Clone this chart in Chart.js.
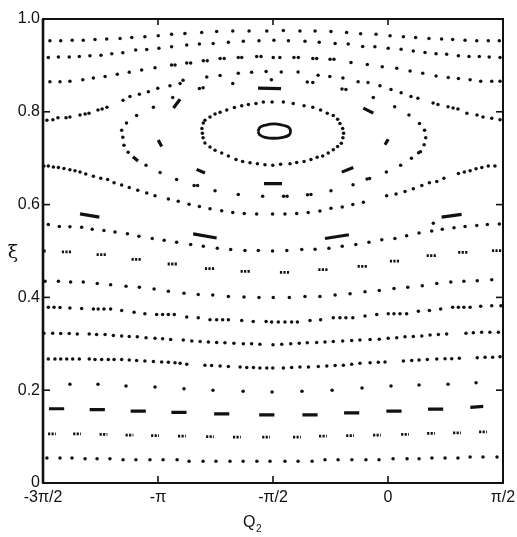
<!DOCTYPE html>
<html>
<head>
<meta charset="utf-8">
<script src="https://cdn.jsdelivr.net/npm/chart.js@4.4.1/dist/chart.umd.min.js"></script>
<style>html,body{margin:0;padding:0;background:#fff}</style>
</head>
<body>
<canvas id="poincare" width="517" height="537"></canvas>
<script>
const xTicks = [-1.5, -1, -0.5, 0, 0.5];
const xTickLabels = ['-3π/2', '-π', '-π/2', '0', 'π/2'];
const yTicks = [0, 0.2, 0.4, 0.6, 0.8, 1.0];
const yTickLabels = ['0', '0.2', '0.4', '0.6', '0.8', '1.0'];

// plain dotted invariant curves, bottom to top
const curve05 = [[-1.483,.054],[-1.426,.054],[-1.374,.054],[-1.317,.052],[-1.265,.052],[-1.209,.052],[-1.152,.050],[-1.096,.050],[-1.035,.050],[-0.978,.050],[-0.917,.050],[-0.865,.047],[-0.804,.047],[-0.748,.047],[-0.687,.047],[-0.630,.047],[-0.570,.047],[-0.513,.047],[-0.448,.047],[-0.391,.047],[-0.330,.047],[-0.274,.050],[-0.217,.050],[-0.157,.050],[-0.096,.050],[-0.039,.050],[0.022,.052],[0.083,.052],[0.135,.052],[0.191,.054],[0.248,.054],[0.304,.054],[0.357,.056],[0.413,.056],[0.474,.056]];
const curve20 = [[-1.383,.213],[-1.261,.213],[-1.139,.209],[-1.013,.207],[-0.887,.203],[-0.761,.200],[-0.630,.198],[-0.504,.196],[-0.374,.198],[-0.243,.200],[-0.113,.205],[0.013,.209],[0.135,.211],[0.261,.213],[0.383,.216]];
const curve26 = [[-1.477,.267],[-1.448,.267],[-1.423,.267],[-1.397,.267],[-1.371,.267],[-1.342,.267],[-1.299,.267],[-1.274,.266],[-1.245,.266],[-1.216,.266],[-1.191,.266],[-1.158,.266],[-1.125,.265],[-1.093,.264],[-1.057,.263],[-1.020,.262],[-0.984,.261],[-0.955,.260],[-0.926,.259],[-0.904,.258],[-0.875,.256],[-0.796,.254],[-0.767,.253],[-0.730,.252],[-0.694,.251],[-0.643,.250],[-0.614,.249],[-0.585,.249],[-0.557,.248],[-0.527,.248],[-0.501,.248],[-0.455,.248],[-0.419,.249],[-0.383,.250],[-0.346,.250],[-0.303,.251],[-0.266,.252],[-0.230,.253],[-0.194,.254],[-0.158,.256],[-0.122,.258],[-0.078,.259],[-0.042,.260],[-0.013,.261],[0.067,.263],[0.103,.264],[0.135,.265],[0.171,.266],[0.212,.267],[0.248,.268],[0.277,.268],[0.310,.269],[0.388,.270],[0.422,.271],[0.455,.271],[0.487,.272]];
const curve31 = [[-1.496,.323],[-1.458,.323],[-1.423,.322],[-1.386,.322],[-1.351,.321],[-1.299,.321],[-1.267,.320],[-1.230,.320],[-1.194,.318],[-1.158,.317],[-1.125,.316],[-1.090,.315],[-1.052,.313],[-1.013,.312],[-0.980,.311],[-0.945,.309],[-0.890,.308],[-0.853,.306],[-0.817,.305],[-0.781,.304],[-0.745,.303],[-0.709,.302],[-0.670,.301],[-0.629,.300],[-0.593,.300],[-0.557,.299],[-0.500,.298],[-0.462,.299],[-0.423,.300],[-0.386,.301],[-0.351,.302],[-0.310,.303],[-0.274,.304],[-0.238,.305],[-0.197,.306],[-0.158,.307],[-0.122,.308],[-0.078,.309],[-0.038,.310],[0.001,.312],[0.038,.313],[0.074,.315],[0.110,.316],[0.147,.317],[0.183,.319],[0.219,.320],[0.255,.321],[0.339,.323],[0.371,.324],[0.407,.325],[0.443,.325],[0.480,.325]];
const curve37 = [[-1.477,.379],[-1.452,.379],[-1.426,.378],[-1.383,.377],[-1.332,.376],[-1.281,.375],[-1.260,.375],[-1.235,.375],[-1.206,.375],[-1.158,.372],[-1.104,.368],[-1.057,.365],[-1.006,.363],[-0.980,.363],[-0.955,.363],[-0.929,.363],[-0.875,.358],[-0.825,.356],[-0.774,.352],[-0.745,.352],[-0.719,.352],[-0.694,.352],[-0.636,.350],[-0.586,.348],[-0.530,.348],[-0.506,.347],[-0.477,.347],[-0.448,.347],[-0.419,.347],[-0.394,.347],[-0.339,.350],[-0.293,.352],[-0.238,.356],[-0.209,.356],[-0.183,.356],[-0.153,.356],[-0.100,.360],[-0.049,.363],[0.001,.365],[0.026,.365],[0.052,.365],[0.081,.365],[0.132,.370],[0.180,.372],[0.229,.375],[0.281,.379],[0.306,.379],[0.330,.379],[0.357,.379],[0.403,.381],[0.451,.382],[0.491,.382]];
const curve43 = [[-1.491,.435],[-1.433,.435],[-1.380,.433],[-1.325,.433],[-1.264,.430],[-1.206,.427],[-1.139,.424],[-1.081,.422],[-1.017,.418],[-0.955,.413],[-0.887,.409],[-0.825,.406],[-0.762,.405],[-0.694,.402],[-0.626,.401],[-0.561,.400],[-0.499,.400],[-0.429,.400],[-0.361,.402],[-0.296,.402],[-0.230,.405],[-0.165,.408],[-0.100,.412],[-0.038,.415],[0.026,.419],[0.086,.422],[0.149,.425],[0.212,.430],[0.273,.433],[0.330,.435],[0.388,.436],[0.451,.438]];
const curve53 = [[-1.477,.557],[-1.429,.553],[-1.383,.552],[-1.332,.551],[-1.286,.547],[-1.235,.544],[-1.187,.541],[-1.133,.537],[-1.083,.532],[-1.025,.527],[-0.973,.523],[-0.919,.519],[-0.858,.514],[-0.803,.510],[-0.742,.506],[-0.684,.503],[-0.622,.501],[-0.564,.501],[-0.502,.500],[-0.440,.501],[-0.375,.503],[-0.317,.504],[-0.257,.506],[-0.199,.510],[-0.140,.514],[-0.083,.519],[-0.027,.524],[0.030,.527],[0.081,.533],[0.135,.539],[0.190,.543],[0.236,.547],[0.287,.550],[0.335,.553],[0.386,.555],[0.432,.557],[0.484,.558],[0.197,.560]];
const separatrix = [[-1.496,.683],[-1.477,.683],[-1.455,.681],[-1.433,.680],[-1.409,.678],[-1.383,.675],[-1.361,.673],[-1.339,.670],[-1.314,.666],[-1.281,.661],[-1.249,.657],[-1.219,.654],[-1.191,.647],[-1.158,.642],[-1.125,.637],[-1.088,.631],[-1.049,.625],[-1.013,.619],[-0.955,.612],[-0.912,.607],[-0.865,.601],[-0.820,.596],[-0.774,.591],[-0.723,.587],[-0.675,.583],[-0.625,.581],[-0.571,.580],[-0.502,.580],[-0.448,.580],[-0.397,.581],[-0.347,.583],[-0.296,.586],[-0.248,.592],[-0.199,.595],[-0.153,.600],[-0.107,.605],[-0.006,.619],[0.035,.623],[0.074,.628],[0.110,.634],[0.147,.641],[0.180,.647],[0.212,.650],[0.243,.657],[0.306,.667],[0.332,.670],[0.357,.673],[0.383,.677],[0.408,.680],[0.436,.683],[0.465,.683]];
const curveD = [[-1.483,.782],[-1.457,.783],[-1.435,.787],[-1.400,.787],[-1.383,.789],[-1.339,.793],[-1.317,.795],[-1.300,.797],[-1.261,.804],[-1.243,.806],[-1.222,.810],[-1.152,.825],[-1.122,.833],[-1.081,.838],[-1.042,.843],[-1.001,.851],[-0.948,.856],[-0.904,.861],[-0.891,.868],[-0.788,.875],[-0.730,.878],[-0.651,.883],[-0.593,.885],[-0.530,.887],[-0.464,.886],[-0.391,.886],[-0.304,.879],[-0.253,.876],[-0.196,.873],[-0.130,.865],[-0.087,.863],[-0.035,.856],[0.013,.848],[0.057,.841],[0.100,.833],[0.130,.829],[0.196,.819],[0.217,.816],[0.261,.811],[0.283,.808],[0.304,.806],[0.343,.797],[0.387,.793],[0.413,.789],[0.451,.786],[0.487,.783]];
const curveC = [[-1.470,.865],[-1.426,.865],[-1.383,.866],[-1.327,.869],[-1.281,.873],[-1.230,.876],[-1.177,.881],[-1.125,.885],[-1.071,.890],[-1.013,.895],[-0.941,.901],[-0.926,.901],[-0.875,.905],[-0.858,.905],[-0.803,.910],[-0.786,.910],[-0.730,.915],[-0.712,.915],[-0.651,.917],[-0.636,.917],[-0.571,.919],[-0.552,.919],[-0.499,.917],[-0.470,.917],[-0.409,.917],[-0.390,.917],[-0.327,.915],[-0.310,.915],[-0.252,.913],[-0.235,.913],[-0.161,.906],[-0.090,.902],[-0.025,.897],[0.038,.894],[0.096,.888],[0.151,.883],[0.209,.877],[0.262,.874],[0.306,.872],[0.357,.869],[0.403,.866],[0.451,.866],[0.487,.866]];
const curveB = [[-1.477,.917],[-1.433,.918],[-1.386,.918],[-1.342,.919],[-1.296,.921],[-1.248,.922],[-1.201,.925],[-1.153,.927],[-1.097,.933],[-1.049,.934],[-0.996,.937],[-0.941,.940],[-0.875,.944],[-0.820,.946],[-0.760,.947],[-0.694,.950],[-0.629,.952],[-0.561,.953],[-0.496,.954],[-0.433,.953],[-0.361,.952],[-0.299,.950],[-0.230,.947],[-0.173,.946],[-0.110,.941],[-0.057,.940],[0.001,.937],[0.057,.935],[0.110,.931],[0.161,.928],[0.209,.925],[0.255,.924],[0.306,.921],[0.352,.919],[0.397,.919],[0.440,.918],[0.487,.917]];
const curveA = [[-1.470,.953],[-1.423,.953],[-1.373,.954],[-1.325,.954],[-1.274,.956],[-1.223,.957],[-1.165,.958],[-1.114,.960],[-1.057,.962],[-0.999,.964],[-0.941,.967],[-0.883,.969],[-0.810,.971],[-0.745,.973],[-0.675,.974],[-0.604,.974],[-0.527,.974],[-0.455,.975],[-0.383,.974],[-0.317,.974],[-0.248,.973],[-0.180,.971],[-0.119,.968],[-0.052,.967],[0.009,.964],[0.067,.962],[0.120,.960],[0.178,.958],[0.233,.957],[0.281,.956],[0.335,.954],[0.386,.953],[0.436,.953],[0.484,.953]];

// chaotic layer round the island chain, and the ring about -pi/2
const chainLoop = [[-1.020,.810],[-0.936,.831],[-0.820,.850],[-0.804,.852],[-0.675,.861],[-0.507,.869],[-0.351,.864],[-0.327,.863],[-0.200,.849],[-0.183,.848],[-0.064,.831],[0.029,.811],[0.091,.793],[0.137,.775],[0.159,.760],[0.164,.744],[0.157,.729],[0.141,.714],[0.133,.712],[0.102,.700],[0.055,.685],[-0.007,.670],[-0.080,.656],[-0.091,.655],[-0.152,.643],[-0.248,.630],[-0.335,.622],[-0.350,.621],[-0.439,.618],[-0.454,.618],[-0.545,.618],[-0.651,.622],[-0.752,.630],[-0.828,.641],[-0.843,.641],[-0.919,.654],[-0.991,.669],[-1.052,.685],[-1.130,.713],[-1.148,.728],[-1.153,.745],[-1.158,.760],[-1.137,.776],[-1.093,.792]];
const ring = [[-0.807,.754],[-0.809,.764],[-0.803,.776],[-0.796,.782],[-0.774,.789],[-0.752,.795],[-0.730,.799],[-0.701,.804],[-0.668,.809],[-0.636,.813],[-0.607,.816],[-0.574,.818],[-0.542,.821],[-0.504,.821],[-0.455,.821],[-0.412,.818],[-0.365,.813],[-0.327,.810],[-0.293,.804],[-0.264,.797],[-0.238,.792],[-0.219,.784],[-0.209,.775],[-0.197,.764],[-0.193,.754],[-0.196,.744],[-0.203,.732],[-0.219,.725],[-0.238,.718],[-0.260,.711],[-0.284,.705],[-0.308,.702],[-0.335,.697],[-0.365,.693],[-0.397,.691],[-0.426,.688],[-0.467,.687],[-0.501,.685],[-0.535,.686],[-0.568,.688],[-0.600,.690],[-0.632,.693],[-0.661,.697],[-0.694,.705],[-0.723,.711],[-0.752,.717],[-0.774,.724],[-0.796,.733],[-0.804,.744]];
const ellipse = [[-0.565,.757],[-0.557,.766],[-0.535,.771],[-0.496,.774],[-0.457,.771],[-0.430,.766],[-0.424,.757],[-0.430,.750],[-0.457,.745],[-0.496,.743],[-0.535,.745],[-0.557,.750],[-0.565,.757]];

// short islands drawn as dashes: [x1, y1, x2, y2]
const islands16 = [[-1.474,.160,-1.408,.160],[-1.297,.158,-1.231,.158],[-1.119,.155,-1.053,.155],[-0.942,.152,-0.876,.152],[-0.756,.149,-0.690,.149],[-0.560,.147,-0.494,.147],[-0.372,.147,-0.306,.147],[-0.191,.151,-0.125,.151],[-0.007,.155,0.059,.155],[0.174,.159,0.240,.159],[0.358,.163,0.414,.165]];
const islands58 = [[-1.339,.580,-1.255,.573],[-0.847,.537,-0.745,.528],[-0.274,.527,-0.170,.535],[0.233,.573,0.320,.579]];
const islandsChain = [[-0.565,.851,-0.465,.850],[-0.933,.808,-0.904,.827],[-0.999,.739,-0.984,.725],[-1.109,.703,-1.087,.694],[-0.832,.676,-0.796,.668],[-0.539,.645,-0.461,.645],[-0.201,.670,-0.151,.680],[-0.013,.729,0.001,.741],[-0.107,.808,-0.064,.797]];

// little groups of dots: [xStart, xEnd, y]
const groups10 = [[-1.478,-1.444,.106],[-1.369,-1.335,.106],[-1.254,-1.220,.105],[-1.141,-1.107,.103],[-1.030,-0.996,.102],[-0.913,-0.879,.101],[-0.791,-0.757,.100],[-0.674,-0.640,.099],[-0.547,-0.513,.099],[-0.413,-0.379,.099],[-0.300,-0.266,.101],[-0.182,-0.148,.102],[-0.065,-0.031,.103],[0.057,0.091,.105],[0.170,0.204,.107],[0.283,0.317,.108],[0.396,0.430,.110]];
const groups48 = [[-1.498,-1.484,.500],[-1.418,-1.374,.498],[-1.267,-1.223,.492],[-1.115,-1.071,.482],[-0.958,-0.914,.472],[-0.796,-0.752,.462],[-0.641,-0.597,.456],[-0.470,-0.426,.454],[-0.303,-0.259,.460],[-0.132,-0.088,.467],[0.008,0.052,.478],[0.168,0.212,.490],[0.305,0.349,.497],[0.452,0.496,.501]];

const INK = '#111';
const pts = a => a.map(([x, y]) => ({x, y}));
const segs = a => a.flatMap(s => [{x: s[0], y: s[1]}, {x: s[2], y: s[3]}, {x: null, y: null}]);
const groups = a => a.flatMap(g => [{x: g[0], y: g[2]}, {x: g[1], y: g[2]}, {x: null, y: null}]);

const dotSet = data => ({data: pts(data), pointRadius: 1.75, pointBackgroundColor: INK, pointBorderWidth: 0, showLine: false});
const dashSet = data => ({data: segs(data), showLine: true, pointRadius: 0, borderColor: INK, borderWidth: 3.2, borderCapStyle: 'butt', spanGaps: false});
const groupSet = data => ({data: groups(data), showLine: true, pointRadius: 0, borderColor: INK, borderWidth: 2.8, borderDash: [2.2, 1.3], borderCapStyle: 'butt', spanGaps: false});

const frame = {
    id: 'frame',
    afterDatasetsDraw(chart) {
        const {ctx, chartArea: a, scales: {x, y}} = chart;
        const line = (x1, y1, x2, y2) => { ctx.beginPath(); ctx.moveTo(x1, y1); ctx.lineTo(x2, y2); ctx.stroke(); };
        ctx.save();
        ctx.strokeStyle = INK;
        ctx.lineWidth = 2;
        ctx.strokeRect(a.left, a.top, a.right - a.left, a.bottom - a.top);
        ctx.lineWidth = 2.6;
        line(a.left, a.top, a.left, a.bottom);
        ctx.lineWidth = 1.6;
        xTicks.slice(1, -1).forEach(v => {
            const px = x.getPixelForValue(v);
            line(px, a.bottom, px, a.bottom - 7);
            line(px, a.top, px, a.top + 6);
        });
        yTicks.slice(1, -1).forEach(v => {
            const py = y.getPixelForValue(v);
            line(a.left, py, a.left + 7, py);
            line(a.right, py, a.right - 7, py);
        });
        ctx.fillStyle = INK;
        ctx.font = '16px "Liberation Sans", Arial, sans-serif';
        ctx.textAlign = 'right';
        ctx.textBaseline = 'middle';
        yTicks.forEach((v, i) => ctx.fillText(yTickLabels[i], a.left - 3, y.getPixelForValue(v)));
        ctx.textAlign = 'center';
        ctx.textBaseline = 'top';
        xTicks.forEach((v, i) => ctx.fillText(xTickLabels[i], x.getPixelForValue(v), a.bottom + 7));
        // axis titles
        ctx.font = '19px "DejaVu Serif", serif';
        ctx.textBaseline = 'middle';
        ctx.fillText('ξ', 13, (a.top + a.bottom) / 2 + 2);
        ctx.font = '16px "Liberation Sans", Arial, sans-serif';
        ctx.textAlign = 'left';
        ctx.fillText('Q', 243, 523);
        ctx.font = '10px "Liberation Sans", Arial, sans-serif';
        ctx.fillText('2', 256, 529);
        ctx.restore();
    }
};

new Chart(document.getElementById('poincare'), {
    type: 'scatter',
    data: {
        datasets: [
            dotSet(curve05), dotSet(curve20), dotSet(curve26), dotSet(curve31), dotSet(curve37),
            dotSet(curve43), dotSet(curve53), dotSet(separatrix), dotSet(curveD), dotSet(curveC),
            dotSet(curveB), dotSet(curveA), dotSet(chainLoop), dotSet(ring),
            dashSet(islands16), dashSet(islands58), dashSet(islandsChain),
            groupSet(groups10), groupSet(groups48),
            {data: pts(ellipse), showLine: true, pointRadius: 0, borderColor: INK, borderWidth: 2.8, tension: 0.45}
        ]
    },
    options: {
        responsive: false,
        animation: false,
        events: [],
        layout: {padding: {top: 19, right: 14, left: 0, bottom: 0}},
        plugins: {legend: {display: false}, tooltip: {enabled: false}},
        scales: {
            x: {
                type: 'linear', min: -1.5, max: 0.5,
                grid: {display: false}, border: {display: false}, ticks: {display: false},
                afterFit(s) { s.height = 54; }
            },
            y: {
                type: 'linear', min: 0, max: 1,
                grid: {display: false}, border: {display: false}, ticks: {display: false},
                afterFit(s) { s.width = 43; }
            }
        }
    },
    plugins: [frame]
});
</script>
</body>
</html>
